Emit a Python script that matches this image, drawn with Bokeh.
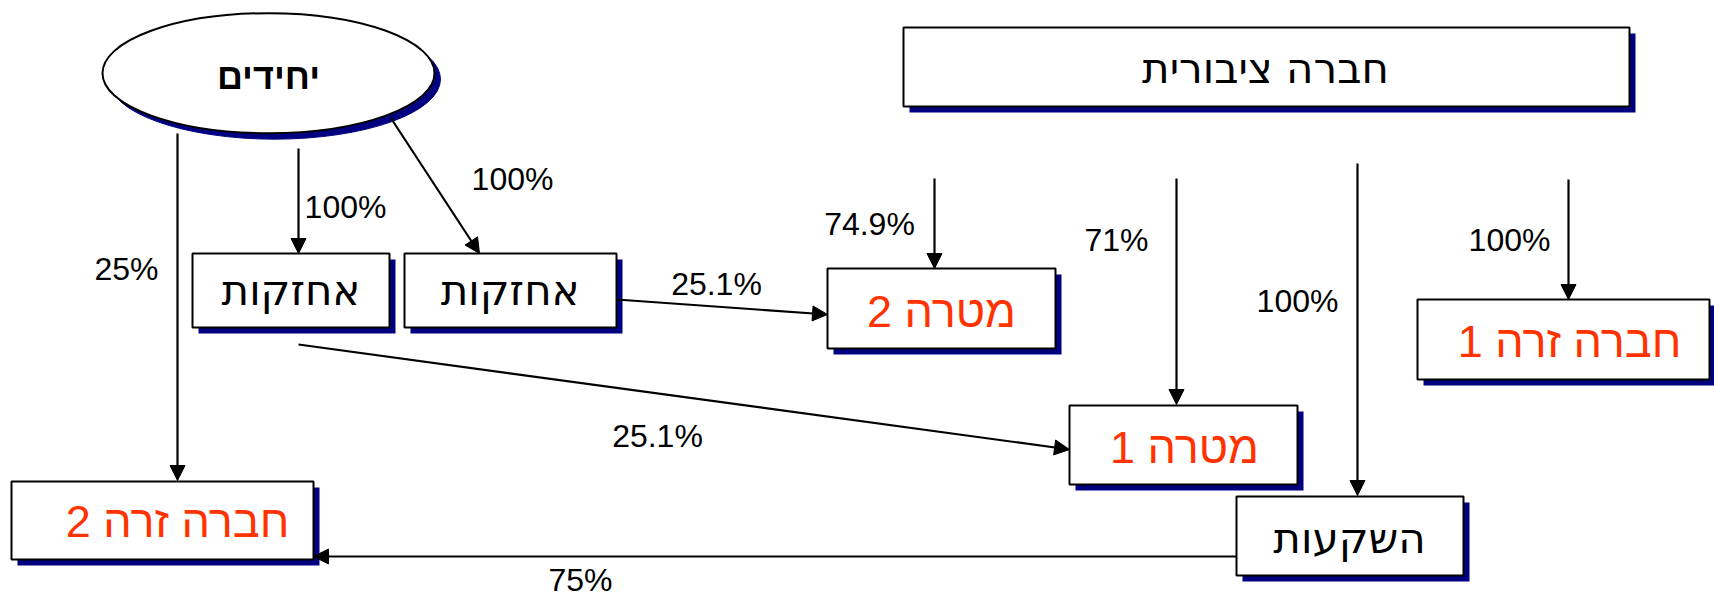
from bokeh.plotting import figure
from bokeh.models import Range1d, Arrow, NormalHead, ColumnDataSource
from bokeh.core.properties import value
from bokeh.embed import file_html
from bokeh.resources import INLINE

# ---------------- data ----------------
owner_name = "יחידים"
box_names = ["אחזקות", "אחזקות", "מטרה 2", "חברה ציבורית",
             "מטרה 1", "חברה זרה 1", "השקעות", "חברה זרה 2"]
box_is_target = [False, False, True, False, True, True, False, True]
holdings = ["100%", "100%", "25%", "25.1%", "25.1%",
            "74.9%", "71%", "100%", "100%", "75%"]

# ---------------- layout (reference pixels) ----------------
ell_x, ell_y, ell_w, ell_h = 268, 72.7, 332, 120
box_left = [192, 404, 827, 903, 1069, 1417, 1236, 11]
box_right = [389, 616, 1055, 1629, 1297, 1709, 1463, 313]
box_top = [253, 253, 268, 27, 405, 299, 496, 481]
box_bottom = [327, 327, 348, 106, 484, 379, 575, 559]
name_x = [290.5, 509.7, 941, 1265, 1184, 1569, 1349, 177]
name_base = [305, 305, 327, 83, 463, 357, 553, 537]

edge_x0 = [298, 390, 177, 616, 298, 934, 1176, 1357, 1568, 1236]
edge_y0 = [148, 117, 133, 299, 344, 178, 178, 163, 179, 556]
edge_x1 = [298, 479, 177, 827, 1069, 934, 1176, 1357, 1568, 313]
edge_y1 = [253, 253, 480, 314, 449, 268, 404, 495, 299, 556]
pct_x = [345, 512, 126, 716, 657, 869, 1116, 1297, 1509, 580]
pct_base = [218, 190, 280, 295, 447, 235, 251, 312, 251, 591]

SHADOW = "#000080"
RED = "#FF3300"
SH = 6
MID = 0.35  # em offset from baseline to the middle of the text box

FS_OWNER, FS_BLACK, FS_RED, FS_PCT = 36, 42, 45, 32

p = figure(width=1714, height=600, x_range=Range1d(0, 1714), y_range=Range1d(600, 0),
           output_backend="svg", toolbar_location=None, min_border=0,
           x_axis_type=None, y_axis_type=None)
p.grid.visible = False
p.outline_line_color = None
p.background_fill_color = "white"

# ellipse with shadow
p.ellipse(x=[ell_x + SH], y=[ell_y + SH], width=ell_w, height=ell_h,
          fill_color=SHADOW, line_color=SHADOW)
p.ellipse(x=[ell_x], y=[ell_y], width=ell_w, height=ell_h,
          fill_color="white", line_color="black", line_width=2)
p.text(x=[ell_x], y=[88.3 - MID * FS_OWNER], text=[owner_name], text_align="center",
       text_baseline="middle", text_font=value("Liberation Sans"),
       text_font_style="bold", text_font_size=f"{FS_OWNER}px", text_color="black")

# boxes
src = ColumnDataSource(dict(
    l=box_left, r=box_right, t=box_top, b=box_bottom,
    ls=[v + SH for v in box_left], rs=[v + SH for v in box_right],
    ts=[v + SH for v in box_top], bs=[v + SH for v in box_bottom]))
p.quad(left="ls", right="rs", top="ts", bottom="bs", source=src,
       fill_color=SHADOW, line_color=None)
p.quad(left="l", right="r", top="t", bottom="b", source=src,
       fill_color="white", line_color="black", line_width=2)

red_idx = [i for i, t in enumerate(box_is_target) if t]
blk_idx = [i for i, t in enumerate(box_is_target) if not t]
p.text(x=[name_x[i] for i in blk_idx], y=[name_base[i] - MID * FS_BLACK for i in blk_idx],
       text=[box_names[i] for i in blk_idx], text_align="center",
       text_baseline="middle", text_font=value("DejaVu Sans"),
       text_font_size=f"{FS_BLACK}px", text_color="black")
p.text(x=[name_x[i] for i in red_idx], y=[name_base[i] - MID * FS_RED for i in red_idx],
       text=[box_names[i] for i in red_idx], text_align="center",
       text_baseline="middle", text_font=value("Liberation Sans"),
       text_font_size=f"{FS_RED}px", text_color=RED)

# arrows
for x0, y0, x1, y1 in zip(edge_x0, edge_y0, edge_x1, edge_y1):
    p.add_layout(Arrow(x_start=x0, y_start=y0, x_end=x1, y_end=y1,
                       line_color="black", line_width=2.2,
                       end=NormalHead(size=15, fill_color="black", line_color="black")))

# percentage labels
p.text(x=pct_x, y=[b - MID * FS_PCT for b in pct_base], text=holdings, text_align="center",
       text_baseline="middle", text_font=value("Liberation Sans"),
       text_font_size=f"{FS_PCT}px", text_color="black")

open("out.html", "w").write(file_html(p, INLINE))
